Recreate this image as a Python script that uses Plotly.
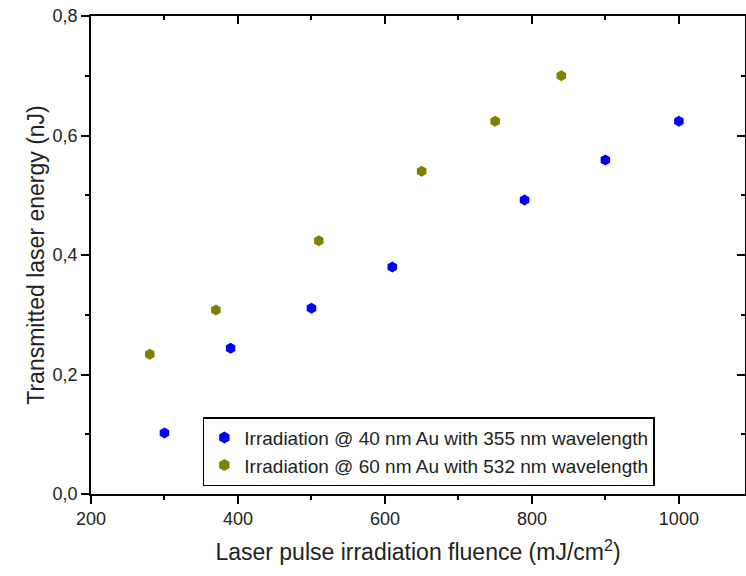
import plotly.graph_objects as go

# Data
fluence_355 = [300, 390, 500, 610, 790, 900, 1000]
energy_355 = [0.102, 0.244, 0.311, 0.380, 0.492, 0.559, 0.624]
fluence_532 = [280, 370, 510, 650, 750, 840]
energy_532 = [0.234, 0.308, 0.424, 0.540, 0.624, 0.700]

label_355 = "Irradiation @ 40 nm Au with 355 nm wavelength"
label_532 = "Irradiation @ 60 nm Au with 532 nm wavelength"

x_range = [200, 1090]
y_range = [0, 0.8]

fig = go.Figure()
fig.add_trace(go.Scatter(x=fluence_355, y=energy_355, mode="markers", name=label_355,
                         marker=dict(symbol="hexagon", size=11, color="#0000FF")))
fig.add_trace(go.Scatter(x=fluence_532, y=energy_532, mode="markers", name=label_532,
                         marker=dict(symbol="hexagon", size=11, color="#808000")))
# empty trace to activate the mirrored top/right axes
fig.add_trace(go.Scatter(x=[], y=[], xaxis="x2", yaxis="y2", showlegend=False,
                         hoverinfo="skip"))

FONT = "Liberation Sans, Arial"
axis_font = dict(family=FONT, size=18, color="#222")

fig.update_layout(
    width=746, height=576,
    margin=dict(l=91, r=1, t=16, b=82),
    paper_bgcolor="white", plot_bgcolor="white",
    separators=",.",
    xaxis=dict(range=x_range, dtick=200, tick0=0, ticks="outside", ticklen=8, tickwidth=1.5,
               tickcolor="black", showline=True, linecolor="black", linewidth=1.5,
               showgrid=False, zeroline=False, tickfont=axis_font,
               minor=dict(dtick=100, ticks="outside", ticklen=4, tickwidth=1.5, tickcolor="black"),
               title=dict(text="Laser pulse irradiation fluence (mJ/cm<sup>2</sup>)",
                          font=dict(family=FONT, size=23, color="#222"), standoff=16)),
    yaxis=dict(range=y_range, dtick=0.2, tickformat=".1f", ticks="outside", ticklen=8,
               tickwidth=1.5, tickcolor="black", showline=True, linecolor="black",
               linewidth=1.5, showgrid=False, zeroline=False, tickfont=axis_font,
               minor=dict(dtick=0.1, ticks="outside", ticklen=4, tickwidth=1.5, tickcolor="black"),
               title=dict(text="Transmitted laser energy (nJ)",
                          font=dict(family=FONT, size=23, color="#222"), standoff=2)),
    xaxis2=dict(range=x_range, overlaying="x", side="top", dtick=200, tick0=0,
                ticks="inside", ticklen=8, tickwidth=1.5, tickcolor="black",
                showline=True, linecolor="black", linewidth=1.5, showgrid=False,
                zeroline=False, showticklabels=False,
                minor=dict(dtick=100, ticks="inside", ticklen=4, tickwidth=1.5, tickcolor="black")),
    yaxis2=dict(range=y_range, overlaying="y", side="right", dtick=0.2,
                ticks="inside", ticklen=8, tickwidth=1.5, tickcolor="black",
                showline=True, linecolor="black", linewidth=1.5, showgrid=False,
                zeroline=False, showticklabels=False,
                minor=dict(dtick=0.1, ticks="inside", ticklen=4, tickwidth=1.5, tickcolor="black")),
    legend=dict(x=0.171, y=0.161, xanchor="left", yanchor="top",
                bordercolor="black", borderwidth=1.5, bgcolor="white",
                font=dict(family=FONT, size=19, color="#222"),
                entrywidth=520, entrywidthmode="pixels",
                itemsizing="constant", tracegroupgap=0),
    showlegend=True,
)

fig.write_html("out.html", config={"displayModeBar": False},
               post_script="document.body.style.margin='0';")
